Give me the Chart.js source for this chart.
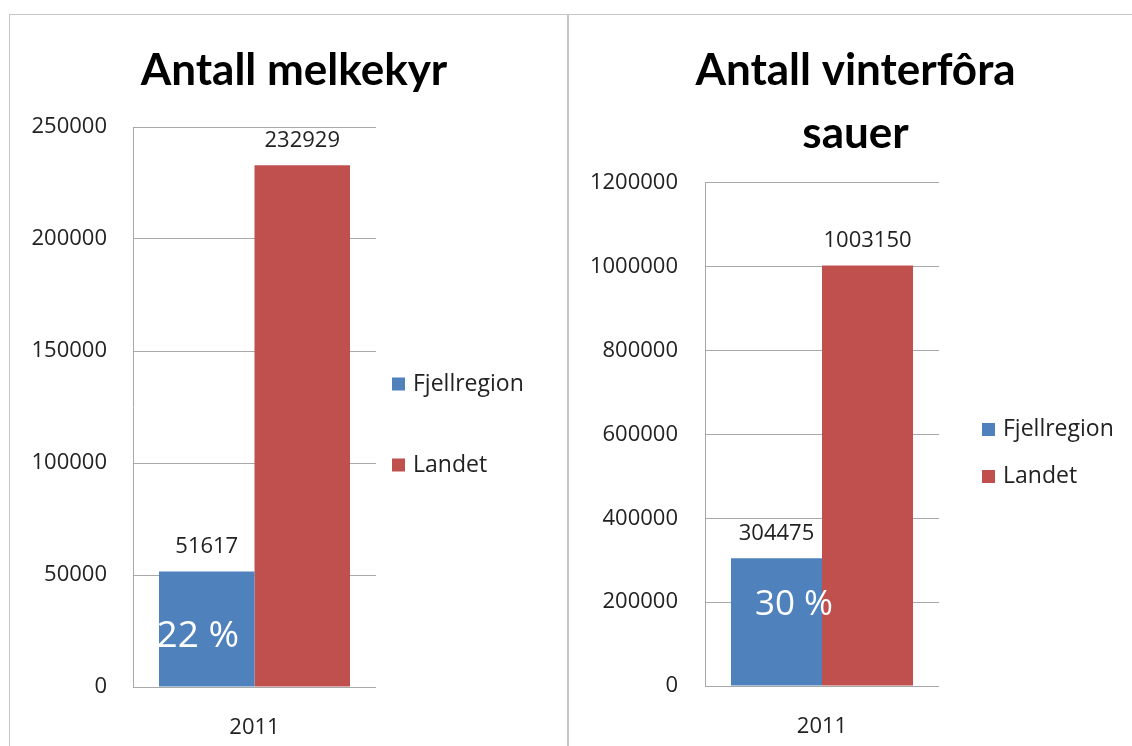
<!DOCTYPE html>
<html><head><meta charset="utf-8">
<script src="https://cdn.jsdelivr.net/npm/chart.js@4.4.0/dist/chart.umd.min.js"></script>
<style>
html,body{margin:0;padding:0;background:#fff;width:1132px;height:746px;overflow:hidden;}
body{position:relative;}
.line{position:absolute;background:#c6c6c6;}
.wrap{position:absolute;top:0;height:746px;}
#w1{left:20px;width:548px;}
#w2{left:579px;width:553px;}
</style></head><body>
<div class="line" style="left:9px;top:14px;width:1123px;height:1px"></div>
<div class="line" style="left:9px;top:14px;width:1px;height:732px"></div>
<div class="line" style="left:567px;top:14px;width:2px;height:732px"></div>
<div class="wrap" id="w1"><canvas id="c1"></canvas></div>
<div class="wrap" id="w2"><canvas id="c2"></canvas></div>
<script>
// ---- data ----
const categories = ['2011'];
const seriesNames = ['Fjellregion', 'Landet'];
const seriesColors = ['#4F81BD', '#C0504D'];
const melkekyrTitle = 'Antall melkekyr';
const melkekyrFjell = [51617];
const melkekyrLandet = [232929];
const melkekyrShare = ['22 %'];
const melkekyrTicks = [0, 50000, 100000, 150000, 200000, 250000];
const sauerTitle = ['Antall vinterfôra', 'sauer'];
const sauerFjell = [304475];
const sauerLandet = [1003150];
const sauerShare = ['30 %'];
const sauerTicks = [0, 200000, 400000, 600000, 800000, 1000000, 1200000];

const TFONT = 'Lato';
const FONT = '"Open Sans"';
const GRID = '#a8a8a8';
const TXT = '#222';

const overlay = {
  id: 'overlay',
  afterDatasetsDraw(chart, args, o) {
    const ctx = chart.ctx;
    ctx.save();
    ctx.textAlign = 'center';
    ctx.textBaseline = 'middle';
    ctx.font = '22px ' + FONT;
    ctx.fillStyle = TXT;
    chart.data.datasets.forEach((ds, i) => {
      chart.getDatasetMeta(i).data.forEach((bar, j) => {
        ctx.fillText(String(ds.data[j]), bar.x, bar.y - 25);
      });
    });
    const b = chart.getDatasetMeta(0).data[0];
    ctx.font = o.shareSize + 'px ' + FONT;
    ctx.fillStyle = '#ffffff';
    ctx.fillText(o.share[0], b.x + o.shareDx, b.base + o.shareDy);
    // legend
    ctx.textAlign = 'left';
    ctx.font = '23px ' + FONT;
    chart.data.datasets.forEach((ds, i) => {
      const yc = o.legendY[i];
      ctx.fillStyle = ds.backgroundColor;
      ctx.fillRect(o.legendX, yc - 6.5, 13, 13);
      ctx.fillStyle = TXT;
      ctx.fillText(ds.label, o.legendX + 21, yc);
    });
    ctx.restore();
  }
};

function makeChart(id, cfg) {
  return new Chart(document.getElementById(id), {
    type: 'bar',
    data: {
      labels: categories,
      datasets: [
        { label: seriesNames[0], data: cfg.fjell, backgroundColor: seriesColors[0], borderWidth: 0 },
        { label: seriesNames[1], data: cfg.landet, backgroundColor: seriesColors[1], borderWidth: 0 }
      ]
    },
    options: {
      responsive: true,
      maintainAspectRatio: false,
      animation: false,
      categoryPercentage: cfg.catPct,
      barPercentage: 1,
      layout: { padding: 0 },
      plugins: {
        legend: { display: false },
        tooltip: { enabled: false },
        title: {
          display: true,
          text: cfg.title,
          color: '#000',
          font: { family: TFONT, size: 44, weight: 'bold', lineHeight: cfg.titleLH },
          padding: { top: cfg.titlePadTop, bottom: cfg.titlePadBottom }
        },
        overlay: cfg.overlay
      },
      scales: {
        x: {
          grid: { display: false },
          border: { display: false },
          ticks: { padding: 20, color: TXT, font: { family: FONT, size: 22 } },
          afterFit: s => { s.height = cfg.xHeight; }
        },
        y: {
          min: cfg.ticks[0],
          max: cfg.ticks[cfg.ticks.length - 1],
          afterBuildTicks: s => { s.ticks = cfg.ticks.map(v => ({ value: v })); },
          ticks: { padding: cfg.tickPad, color: TXT, font: { family: FONT, size: 22 }, callback: v => String(v) },
          grid: { color: GRID, drawTicks: false, lineWidth: 1 },
          border: { display: true, color: GRID },
          afterFit: s => { s.width = cfg.yWidth; }
        },
        legendSpace: {
          type: 'linear',
          position: 'right',
          display: true,
          grid: { display: false, drawTicks: false },
          border: { display: false },
          ticks: { display: false },
          afterFit: s => { s.width = cfg.padRight; }
        }
      }
    },
    plugins: [overlay]
  });
}

makeChart('c1', {
  title: melkekyrTitle, titleLH: 1.2, titlePadTop: 44.6, titlePadBottom: 29.6,
  fjell: melkekyrFjell, landet: melkekyrLandet, ticks: melkekyrTicks,
  catPct: 0.786, padRight: 192, yWidth: 113, tickPad: 26, xHeight: 59,
  overlay: { share: melkekyrShare, shareSize: 37, shareDx: -9, shareDy: -50, legendX: 372, legendY: [384, 465] }
});
makeChart('c2', {
  title: sauerTitle, titleLH: 1.43, titlePadTop: 39.5, titlePadBottom: 17.5,
  fjell: sauerFjell, landet: sauerLandet, ticks: sauerTicks,
  catPct: 0.778, padRight: 193, yWidth: 126, tickPad: 27, xHeight: 60,
  overlay: { share: sauerShare, shareSize: 35, shareDx: 17.5, shareDy: -80, legendX: 403, legendY: [429.5, 476.5] }
});
</script>
</body></html>
